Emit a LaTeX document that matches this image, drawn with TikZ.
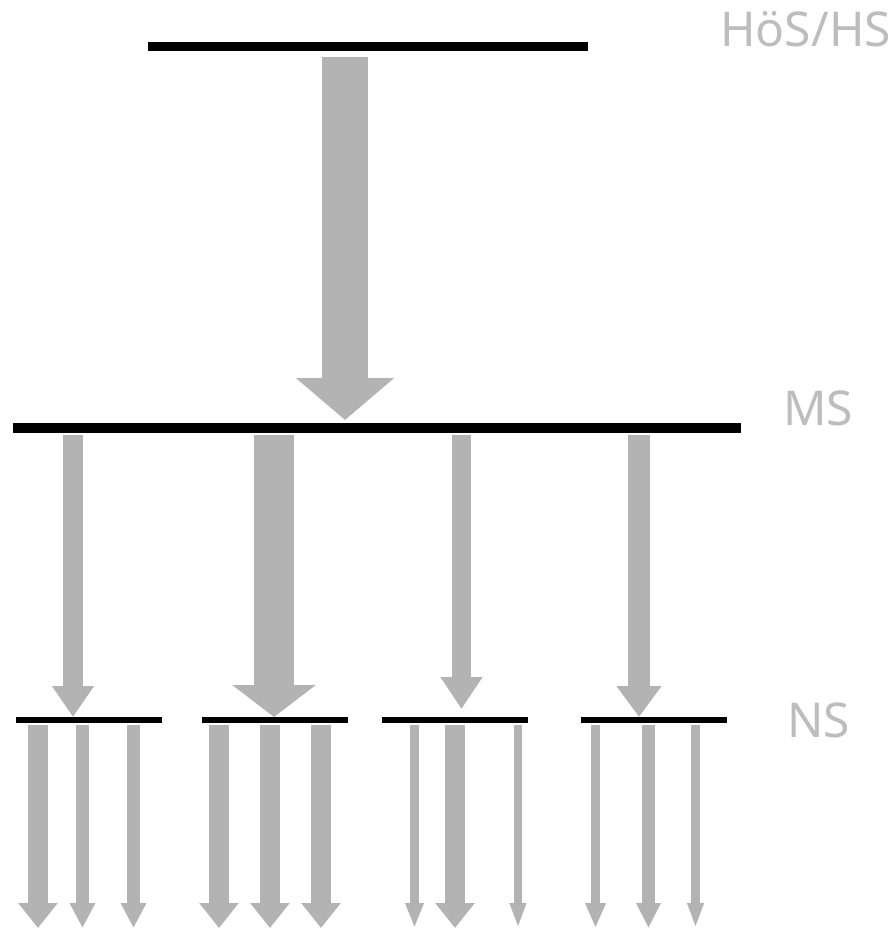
\documentclass[tikz,border=0pt]{standalone}
\usepackage{fontspec}
\setsansfont{Noto Sans}
\usetikzlibrary{arrows.meta}

\definecolor{flowgray}{HTML}{B3B3B3}
\definecolor{labelgray}{HTML}{BDBDBD}

\begin{document}
\begin{tikzpicture}[x=1pt,y=-1pt,
                    level/.style={line width=#1pt,draw=black},           % school level bar
                    flow/.style n args={3}{draw=flowgray,line width=#1pt,
                        -{Triangle[width=#2pt,length=#3pt]}},            % pupil flow
                    tier/.style={text=labelgray,inner sep=0pt,anchor=base west,
                        font=\sffamily\fontsize{48}{58}\selectfont}]

\useasboundingbox (0,0) rectangle (893,928);

% ---------------------------------------------------------------
% Level bars
\coordinate (hs-l) at (148,46.5);
\coordinate (hs-r) at (588,46.5);
\coordinate (ms-l) at (13,428);
\coordinate (ms-r) at (741,428);
\draw[level=9.5] (hs-l) -- (hs-r);
\draw[level=10]  (ms-l) -- (ms-r);

\foreach \xl/\xr [count=\i] in {16/162,202/348,382/528,581/727}{
  \coordinate (ns\i-l) at (\xl,720);
  \coordinate (ns\i-r) at (\xr,720);
  \draw[level=6] (ns\i-l) -- (ns\i-r);
}

% ---------------------------------------------------------------
% Labels
\node[tier] (lab-hs) at (720,47)  {HöS/HS};
\node[tier] (lab-ms) at (783,425) {MS};
\node[tier] (lab-ns) at (787,737) {NS};

% ---------------------------------------------------------------
% HS -> MS
\coordinate (top-s) at (345,57);
\coordinate (top-e) at (345,420);
\draw[flow={46}{96}{42}] (top-s) -- (top-e);

% MS -> NS
\coordinate (m1-s) at (73,435);    \coordinate (m1-e) at (73,717);
\coordinate (m2-s) at (274,435);   \coordinate (m2-e) at (274,717);
\coordinate (m3-s) at (461.5,435); \coordinate (m3-e) at (461.5,709);
\coordinate (m4-s) at (639,435);   \coordinate (m4-e) at (639,717);
\draw[flow={20}{40}{31}] (m1-s) -- (m1-e);
\draw[flow={40}{82}{32}] (m2-s) -- (m2-e);
\draw[flow={19}{40}{32}] (m3-s) -- (m3-e);
\draw[flow={22}{43}{31}] (m4-s) -- (m4-e);

% NS -> out
\foreach \x/\w/\h [count=\i] in {38/20/38, 82.5/13/24, 133.5/13/24,
                                 219/20/38, 270/20/38, 321/20/38,
                                 414.5/9/17, 455/20/38, 518/8/15,
                                 595.5/9/19, 648.5/13/23, 695.5/9/15}{
  \coordinate (o\i-s) at (\x,725);
  \coordinate (o\i-e) at (\x,928);
  \draw[flow={\w}{\h}{25}] (o\i-s) -- (o\i-e);
}

\end{tikzpicture}
\end{document}
